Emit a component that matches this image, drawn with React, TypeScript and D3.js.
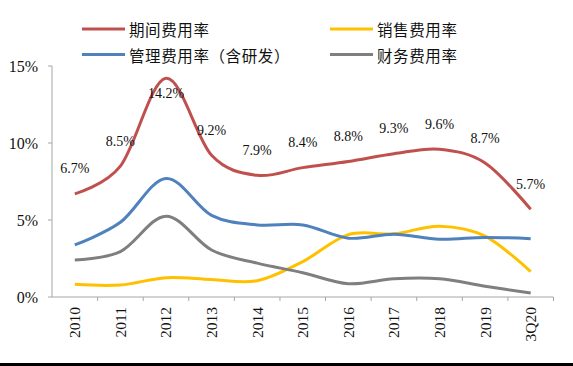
import React from "react";
import * as d3 from "d3";

const categories = ["2010", "2011", "2012", "2013", "2014", "2015", "2016", "2017", "2018", "2019", "3Q20"];
const periodRate = [6.7, 8.5, 14.2, 9.2, 7.9, 8.4, 8.8, 9.3, 9.6, 8.7, 5.7];
const salesRate = [0.82, 0.78, 1.25, 1.13, 1.06, 2.3, 4.05, 4.1, 4.6, 3.95, 1.65];
const adminRate = [3.38, 4.85, 7.7, 5.3, 4.68, 4.68, 3.82, 4.08, 3.75, 3.87, 3.79];
const financeRate = [2.4, 2.95, 5.25, 3.05, 2.2, 1.58, 0.86, 1.18, 1.18, 0.7, 0.26];
const yTicks = [0, 5, 10, 15];

const seriesNames = ["期间费用率", "销售费用率", "管理费用率（含研发）", "财务费用率"];
const seriesColors = ["#C0504D", "#FFC000", "#4F81BD", "#7F7F7F"];

const W = 573;
const H = 366;
const plot = { left: 52, right: 553.5, top: 66, bottom: 297 };
const serif = "'Liberation Serif', 'Times New Roman', serif";
const cjk = "'Noto Sans CJK SC', sans-serif";

export default function App() {
  const x = d3
    .scaleBand<string>()
    .domain(categories)
    .range([plot.left, plot.right])
    .paddingInner(0)
    .paddingOuter(0);
  const cx = (c: string) => (x(c) as number) + x.bandwidth() / 2;
  const y = d3.scaleLinear().domain([0, 15]).range([plot.bottom, plot.top]);

  const line = d3
    .line<number>()
    .x((_, i) => cx(categories[i]))
    .y((v) => y(v))
    .curve(d3.curveCardinal.tension(0));

  // draw order: yellow, gray, blue, red on top
  const drawOrder = [1, 3, 2, 0];
  const allSeries = [periodRate, salesRate, adminRate, financeRate];
  const maxPeriod = d3.max(periodRate) as number;
  const axisColor = "#A6A6A6";

  const legendItems = [
    { idx: 0, lx: 82, ly: 29 },
    { idx: 1, lx: 330, ly: 29 },
    { idx: 2, lx: 82, ly: 54.5 },
    { idx: 3, lx: 330, ly: 54.5 },
  ];

  return (
    <svg
      width={W}
      height={H}
      style={{ position: "absolute", left: 0, top: 0, background: "#fff" }}
    >
      <rect x={0} y={0} width={W} height={H} fill="#fff" />
      {/* legend */}
      {legendItems.map((it) => (
        <g key={it.idx}>
          <line
            x1={it.lx}
            x2={it.lx + 43}
            y1={it.ly}
            y2={it.ly}
            stroke={seriesColors[it.idx]}
            strokeWidth={3}
          />
          <text
            x={it.lx + 47}
            y={it.ly}
            dominantBaseline="central"
            fontFamily={cjk}
            fontSize={15.5}
            letterSpacing={0.6}
            fill="#111"
          >
            {seriesNames[it.idx]}
          </text>
        </g>
      ))}

      {/* y axis */}
      <line x1={plot.left} x2={plot.left} y1={plot.top} y2={plot.bottom} stroke={axisColor} strokeWidth={1} />
      {yTicks.map((t) => (
        <g key={t}>
          <line x1={plot.left - 4} x2={plot.left} y1={y(t)} y2={y(t)} stroke={axisColor} />
          <text
            x={38}
            y={y(t)}
            textAnchor="end"
            dominantBaseline="central"
            fontFamily={serif}
            fontSize={16}
            fill="#111"
          >
            {t}%
          </text>
        </g>
      ))}

      {/* x axis */}
      <line x1={plot.left} x2={plot.right} y1={plot.bottom} y2={plot.bottom} stroke={axisColor} />
      {categories.map((c) => (
        <line
          key={"t" + c}
          x1={(x(c) as number) + x.bandwidth()}
          x2={(x(c) as number) + x.bandwidth()}
          y1={plot.bottom}
          y2={plot.bottom + 4}
          stroke={axisColor}
        />
      ))}
      {categories.map((c) => (
        <text
          key={"l" + c}
          transform={`translate(${cx(c)},307) rotate(-90)`}
          textAnchor="end"
          dominantBaseline="central"
          fontFamily={serif}
          fontSize={15.5}
          fill="#111"
        >
          {c}
        </text>
      ))}

      {/* lines */}
      {drawOrder.map((i) => (
        <path
          key={"s" + i}
          d={line(allSeries[i]) || ""}
          fill="none"
          stroke={seriesColors[i]}
          strokeWidth={3}
          strokeLinejoin="round"
          strokeLinecap="butt"
        />
      ))}

      {/* data labels for period rate */}
      {periodRate.map((v, i) => (
        <text
          key={"d" + i}
          x={cx(categories[i])}
          y={v === maxPeriod ? y(v) + 15 : y(v) - 25}
          textAnchor="middle"
          dominantBaseline="central"
          fontFamily={serif}
          fontSize={14}
          fill="#111"
        >
          {v.toFixed(1)}%
        </text>
      ))}

      {/* bottom bar */}
      <rect x={0} y={363} width={W} height={3} fill="#000" />
    </svg>
  );
}
